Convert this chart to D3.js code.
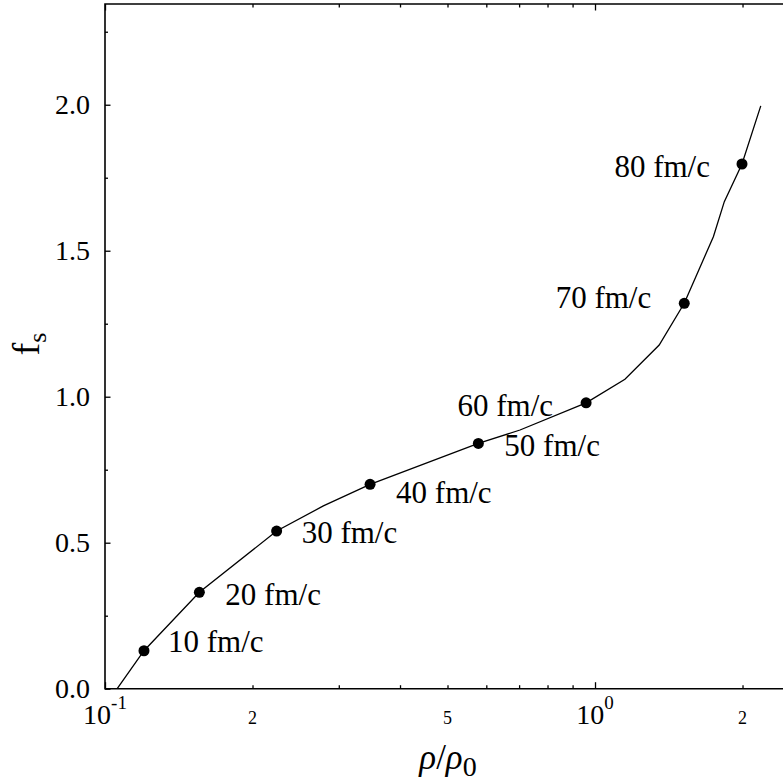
<!DOCTYPE html>
<html>
<head>
<meta charset="utf-8">
<script src="https://cdn.jsdelivr.net/npm/d3@7"></script>
<style>
body { margin: 0; background: #fff; }
text { font-family: "Liberation Serif", "Times New Roman", serif; fill: #000; }
</style>
</head>
<body>
<svg id="chart" width="783" height="783"></svg>
<script>
// curve f_s vs rho/rho0
var curveRho = [0.1059, 0.1201, 0.1558, 0.2240, 0.279, 0.3475, 0.578, 0.703, 0.959, 1.151, 1.352, 1.521, 1.744, 1.836, 1.995, 2.179];
var curveF   = [0.0, 0.130, 0.330, 0.540, 0.626, 0.700, 0.840, 0.886, 0.979, 1.060, 1.177, 1.320, 1.548, 1.668, 1.797, 1.996];

// marked times
var pointRho = [0.1201, 0.1558, 0.2240, 0.3475, 0.578, 0.959, 1.521, 1.995];
var pointF   = [0.130, 0.330, 0.540, 0.700, 0.840, 0.979, 1.320, 1.797];
var pointNames = ["10 fm/c", "20 fm/c", "30 fm/c", "40 fm/c", "50 fm/c", "60 fm/c", "70 fm/c", "80 fm/c"];

var yTicks = [0, 0.5, 1.0, 1.5, 2.0];
var yTickLabels = ["0.0", "0.5", "1.0", "1.5", "2.0"];
var yMinor = [0.25, 0.75, 1.25, 1.75, 2.25];

var xDecades = [0.1, 1];
var xDecadeExp = ["-1", "0"];
var xMid = [0.2, 0.5, 2];
var xMidLabels = ["2", "5", "2"];
var xMinor = [0.3, 0.4, 0.6, 0.7, 0.8, 0.9];

var mLeft = 105, mRight = 783, mTop = 4, mBottom = 688.7;

var svg = d3.select("#chart");

var x = d3.scaleLog()
    .domain([0.1, 2.419])
    .range([mLeft, mRight]);

var y = d3.scaleLinear()
    .domain([0, 2.345])
    .range([mBottom, mTop]);

// ticks (inward)
function xTicks(vals, len, orient, ypos) {
    var ax = (orient == "bottom" ? d3.axisBottom(x) : d3.axisTop(x))
        .tickValues(vals)
        .tickSize(-len)
        .tickFormat("");
    var g = svg.append("g")
        .attr("transform", `translate(0, ${ypos})`)
        .call(ax);
    g.select(".domain").remove();
    g.selectAll("line").attr("stroke", "#000").attr("stroke-width", 1.3);
}
xTicks(xDecades, 6.5, "bottom", mBottom);
xTicks(xMid.concat(xMinor), 3.5, "bottom", mBottom);
xTicks(xDecades, 6.5, "top", mTop);
xTicks(xMid.concat(xMinor), 3.5, "top", mTop);

function yTickMarks(vals, len) {
    var g = svg.append("g")
        .attr("transform", `translate(${mLeft}, 0)`)
        .call(d3.axisLeft(y).tickValues(vals).tickSize(-len).tickFormat(""));
    g.select(".domain").remove();
    g.selectAll("line").attr("stroke", "#000").attr("stroke-width", 1.3);
}
yTickMarks(yTicks, 5.5);
yTickMarks(yMinor, 3);

// frame: left, bottom, top
svg.append("path")
    .attr("d", `M${mRight},${mTop}H${mLeft}V${mBottom}H${mRight}`)
    .attr("fill", "none")
    .attr("stroke", "#000")
    .attr("stroke-width", 1.6);

// y tick labels
svg.selectAll(".ylab")
    .data(yTicks)
    .enter().append("text")
    .attr("x", mLeft - 15)
    .attr("y", d => y(d) + 9.5)
    .attr("text-anchor", "end")
    .style("font-size", "28px")
    .text((d, i) => yTickLabels[i]);

// x tick labels
svg.selectAll(".xmid")
    .data(xMid)
    .enter().append("text")
    .attr("x", d => x(d))
    .attr("y", 724)
    .attr("text-anchor", "middle")
    .style("font-size", "18px")
    .text((d, i) => xMidLabels[i]);

xDecades.forEach(function(d, i) {
    var t = svg.append("text")
        .attr("x", x(d))
        .attr("y", 724)
        .attr("text-anchor", "middle")
        .style("font-size", "28px");
    t.append("tspan").text("10");
    t.append("tspan")
        .attr("dy", -15)
        .style("font-size", "19px")
        .text(xDecadeExp[i]);
});

// axis titles
var xt = svg.append("text")
    .attr("x", 448)
    .attr("y", 769)
    .attr("text-anchor", "middle")
    .style("font-size", "35px");
xt.append("tspan").style("font-style", "italic").text("\u03c1");
xt.append("tspan").text("/");
xt.append("tspan").style("font-style", "italic").text("\u03c1");
xt.append("tspan").attr("dy", 7).style("font-size", "28px").text("0");

var yt = svg.append("text")
    .attr("transform", "translate(39, 344) rotate(-90)")
    .attr("text-anchor", "middle")
    .style("font-size", "38px");
yt.append("tspan").text("f");
yt.append("tspan").attr("dy", 7).style("font-size", "26px").text("s");

// curve
var line = d3.line()
    .x(d => x(d[0]))
    .y(d => y(d[1]));

svg.append("path")
    .datum(d3.zip(curveRho, curveF))
    .attr("d", line)
    .attr("fill", "none")
    .attr("stroke", "#000")
    .attr("stroke-width", 1.3);

// points
svg.selectAll(".pt")
    .data(d3.zip(pointRho, pointF))
    .enter().append("circle")
    .attr("cx", d => x(d[0]))
    .attr("cy", d => y(d[1]))
    .attr("r", 5.5)
    .attr("fill", "#000");

// point labels: offset from the dot
var labelDx = [24, 26, 25, 26, 26, -33, -33, -32];
var labelDy = [1, 13, 12, 19, 13, 13, 5, 13];

svg.selectAll(".plab")
    .data(d3.zip(pointRho, pointF))
    .enter().append("text")
    .attr("x", (d, i) => x(d[0]) + labelDx[i])
    .attr("y", (d, i) => y(d[1]) + labelDy[i])
    .attr("text-anchor", (d, i) => labelDx[i] < 0 ? "end" : "start")
    .style("font-size", "31px")
    .text((d, i) => pointNames[i]);
</script>
</body>
</html>
